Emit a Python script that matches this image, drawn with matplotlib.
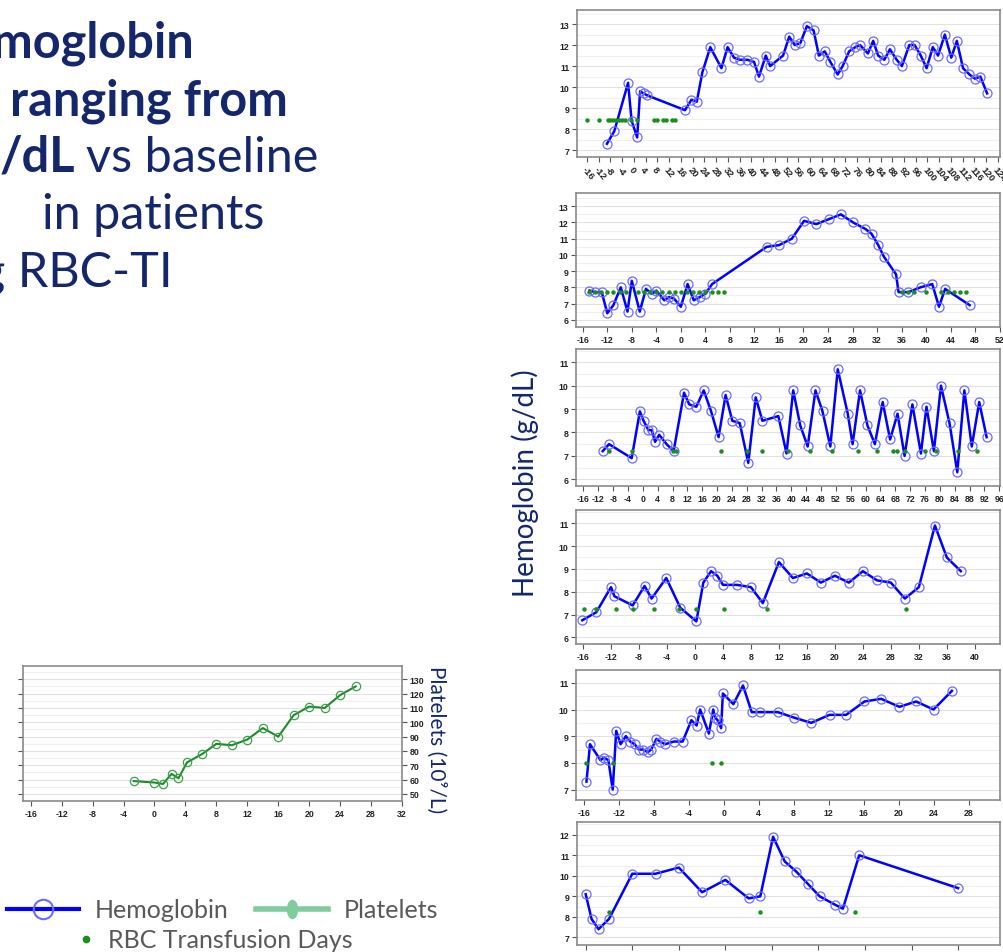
import matplotlib.pyplot as plt
from matplotlib.lines import Line2D
from matplotlib.markers import MarkerStyle
from matplotlib.transforms import Affine2D
from matplotlib.ticker import MultipleLocator

# hemoglobin (g/dL) by study day, one patient per panel, top to bottom
pt1_day = [-9.2, -6.7, -2.0, -0.8, 1.1, 2.1, 3.3, 4.6, 17.4, 19.6, 21.4, 23.3, 26.0, 29.8, 31.9,
           34.1, 36.0, 38.6, 40.9, 42.6, 44.9, 46.4, 50.8, 52.9, 54.8, 56.7, 58.9, 61.2, 63.0,
           65.0, 66.9, 69.4, 71.1, 73.3, 75.4, 77.0, 79.7, 81.5, 83.2, 85.3, 87.2, 89.5, 91.3,
           93.8, 95.6, 97.7, 99.7, 101.8, 103.6, 105.9, 108.1, 110.0, 112.1, 114.3, 116.2,
           118.0, 120.3]
pt1_hb = [7.3, 7.9, 10.2, 8.4, 7.6, 9.8, 9.7, 9.6, 8.9, 9.4, 9.3, 10.7, 11.9, 10.9, 11.9,
          11.4, 11.3, 11.3, 11.2, 10.5, 11.5, 11.0, 11.5, 12.4, 12.0, 12.1, 12.9, 12.7, 11.5,
          11.7, 11.2, 10.6, 11.0, 11.7, 11.9, 12.0, 11.6, 12.2, 11.5, 11.3, 11.8, 11.3, 11.0,
          12.0, 12.0, 11.5, 10.9, 11.9, 11.5, 12.5, 11.4, 12.2, 10.9, 10.6, 10.4, 10.5, 9.7]
pt1_rbc = [-16, -12, -9, -8, -7, -6, -5, -4, -3, -1, 1, 7, 8, 10, 11, 13, 14]

pt2_day = [-14.9, -14.0, -12.9, -12.0, -11.0, -9.8, -8.7, -8.0, -6.7, -5.7, -4.7, -4.0, -2.7,
           -1.9, -1.1, 0.0, 1.1, 2.1, 3.1, 4.0, 5.1, 14.0, 16.0, 18.1, 20.1, 22.1, 24.1, 26.1,
           28.1, 30.1, 31.1, 32.2, 33.1, 35.1, 35.5, 37.1, 39.1, 41.0, 42.1, 43.1, 47.1]
pt2_hb = [7.8, 7.7, 7.7, 6.4, 6.9, 8.0, 6.5, 8.4, 6.5, 7.9, 7.6, 7.8, 7.2, 7.4, 7.3, 6.8, 8.2,
          7.2, 7.4, 7.6, 8.2, 10.5, 10.6, 11.0, 12.1, 11.9, 12.2, 12.5, 12.0, 11.6, 11.3, 10.6,
          9.9, 8.8, 7.7, 7.7, 8.0, 8.2, 6.8, 7.9, 6.9]
pt2_rbc = [-15, -14, -13, -12, -11, -10, -9, -7, -6, -5, -4, -3, -2, -1, 0, 1, 2, 3, 4, 5, 6, 7,
           36, 37, 38, 40, 42.5, 43.5, 44.5, 45.5, 46.5]

pt3_day = [-10.8, -9.1, -3.0, -0.8, 0.2, 1.5, 2.4, 3.3, 4.4, 6.4, 8.3, 11.1, 12.5, 14.4, 16.4,
           18.4, 20.4, 22.3, 24.1, 26.1, 28.4, 30.4, 32.2, 36.5, 38.7, 40.5, 42.4, 44.4, 46.5,
           48.4, 50.5, 52.5, 55.2, 56.5, 58.5, 60.5, 62.5, 64.6, 66.6, 68.6, 70.5, 72.6, 74.9,
           76.4, 78.4, 80.3, 82.6, 84.7, 86.6, 88.6, 90.6, 92.6]
pt3_hb = [7.2, 7.5, 6.9, 8.9, 8.5, 8.1, 8.1, 7.6, 7.9, 7.5, 7.2, 9.7, 9.2, 9.1, 9.8, 8.9, 7.8,
          9.6, 8.5, 8.4, 6.7, 9.5, 8.5, 8.7, 7.1, 9.8, 8.3, 7.4, 9.8, 8.9, 7.4, 10.7, 8.8, 7.5,
          9.8, 8.3, 7.5, 9.3, 7.7, 8.8, 7.0, 9.2, 7.1, 9.1, 7.2, 10.0, 8.4, 6.3, 9.8, 7.4, 9.3,
          7.8]
pt3_rbc = [-9, -3, 8, 9, 21, 28, 32, 39, 45, 51, 58, 63, 67.5, 68.5, 70.5, 76, 79, 85, 90]

pt4_day = [-16.1, -14.1, -12.0, -11.5, -8.9, -7.2, -6.2, -4.1, -2.1, 0.2, 1.2, 2.3, 3.2, 4.0,
           6.0, 8.0, 9.7, 12.0, 14.0, 16.0, 18.0, 20.0, 22.0, 24.0, 26.0, 28.0, 30.0, 32.0, 34.3,
           36.0, 38.0]
pt4_hb = [6.75, 7.1, 8.2, 7.8, 7.4, 8.25, 7.7, 8.6, 7.3, 6.7, 8.4, 8.9, 8.7, 8.3, 8.3, 8.2, 7.5,
          9.3, 8.6, 8.8, 8.4, 8.7, 8.4, 8.9, 8.5, 8.4, 7.7, 8.2, 10.9, 9.5, 8.9]
pt4_rbc = [-15.9, -14.2, -11.3, -8.9, -5.8, -2.3, 0.1, 4.1, 10.3, 30.1]

pt5_day = [-15.7, -15.3, -14.1, -13.7, -13.2, -12.7, -12.3, -11.8, -11.2, -10.7, -10.2, -9.7,
           -9.2, -8.7, -8.3, -7.7, -7.3, -6.7, -5.7, -4.7, -3.7, -3.1, -2.7, -1.7, -1.2, -1.0,
           -0.7, -0.3, -0.1, 1.1, 2.2, 3.2, 4.2, 6.2, 8.0, 10.0, 12.1, 14.0, 16.1, 18.0, 20.1,
           22.0, 24.0, 26.1]
pt5_hb = [7.3, 8.7, 8.1, 8.2, 8.1, 7.0, 9.2, 8.7, 9.0, 8.8, 8.7, 8.5, 8.5, 8.4, 8.5, 8.9, 8.8,
          8.7, 8.8, 8.8, 9.6, 9.4, 10.0, 9.1, 10.0, 9.7, 9.6, 9.3, 10.6, 10.2, 10.9, 9.9, 9.9,
          9.9, 9.7, 9.5, 9.8, 9.8, 10.3, 10.4, 10.1, 10.3, 10.0, 10.7]
pt5_rbc = [-15.7, -12.7, -1.3, -0.3]

pt6_day = [-16.0, -15.5, -14.9, -14.0, -12.0, -10.0, -8.0, -6.0, -4.0, -2.0, -1.0, 0.1, 1.1, 2.1,
           3.1, 4.1, 5.4, 6.1, 7.5, 16.0]
pt6_hb = [9.1, 7.9, 7.4, 7.9, 10.1, 10.1, 10.4, 9.2, 9.8, 8.9, 9.0, 11.9, 10.7, 10.2, 9.6, 9.0,
          8.6, 8.4, 11.0, 9.4]
pt6_rbc = [-14.0, -1.0, 7.1]

# platelets (10^9/L) for the patient in the lower-left panel
plt_day = [-2.7, 0.0, 1.1, 2.2, 3.1, 4.2, 6.2, 8.0, 10.0, 12.0, 14.0, 16.0, 18.0, 20.0, 22.0,
           24.0, 26.0]
plt_val = [59, 58, 57, 64, 61, 72, 78, 85, 84, 88, 96, 90, 105, 111, 110, 119, 125]

W, H = 1004, 953
NAVY = '#15276c'
HB_BLUE = '#0000ff'
RBC_GREEN = '#1a8f1a'

plt.rcParams['font.family'] = ['Liberation Sans', 'DejaVu Sans']
plt.rcParams['font.weight'] = 'bold'
plt.rcParams['axes.unicode_minus'] = False

fig = plt.figure(figsize=(W / 100, H / 100), dpi=100)


def axes_px(left, top, right, bottom):
    return fig.add_axes([left / W, 1 - bottom / H, (right - left) / W, (bottom - top) / H])


def style(ax, xlim, ylim, xstep, ystep):
    ax.set_xlim(*xlim)
    ax.set_ylim(*ylim)
    ax.xaxis.set_major_locator(MultipleLocator(xstep))
    ax.yaxis.set_major_locator(MultipleLocator(ystep))
    ax.yaxis.set_minor_locator(MultipleLocator(ystep / 2))
    ax.grid(axis='y', which='major', color='#e2e2e2', lw=0.8)
    ax.grid(axis='y', which='minor', color='#f0f0f0', lw=0.8)
    ax.set_axisbelow(True)
    for s in ax.spines.values():
        s.set_color('#8a8a8a')
        s.set_linewidth(1.2)
    ax.tick_params(which='major', direction='out', length=3.5, width=0.8, color='#555555',
                   labelsize=6.3, labelcolor='#222222', pad=2)
    ax.tick_params(which='minor', length=0)


def hb_panel(ax, day, hb, rbc, rbc_level):
    ax.plot(day, hb, color=HB_BLUE, lw=1.8, marker='o', ms=6.5, mfc='none',
            mec='#6b6bff', mew=0.9, zorder=3)
    ax.plot(rbc, [rbc_level] * len(rbc), ls='none', marker='o', ms=2.2,
            color=RBC_GREEN, zorder=4)


# six hemoglobin panels on the right
ax1 = axes_px(577, 11, 1000, 158)
style(ax1, (-19.4, 124.7), (6.67, 13.67), 4, 1)
hb_panel(ax1, pt1_day, pt1_hb, pt1_rbc, 8.45)
plt.setp(ax1.get_xticklabels(), rotation=-50, ha='left', rotation_mode='anchor', fontsize=6.8)

ax2 = axes_px(576, 194, 1000, 328)
style(ax2, (-17.1, 52.05), (5.55, 13.82), 4, 1)
hb_panel(ax2, pt2_day, pt2_hb, pt2_rbc, 7.7)

ax3 = axes_px(576, 350, 1000, 487)
style(ax3, (-18.0, 96.2), (5.71, 11.57), 4, 1)
hb_panel(ax3, pt3_day, pt3_hb, pt3_rbc, 7.2)

ax4 = axes_px(576, 511, 1000, 645)
style(ax4, (-17.0, 43.6), (5.71, 11.58), 4, 1)
hb_panel(ax4, pt4_day, pt4_hb, pt4_rbc, 7.23)

ax5 = axes_px(576, 671, 1000, 801)
style(ax5, (-16.9, 31.6), (6.61, 11.48), 4, 1)
hb_panel(ax5, pt5_day, pt5_hb, pt5_rbc, 8.0)

ax6 = axes_px(577, 823, 1000, 946)
style(ax6, (-16.75, 19.6), (6.63, 12.62), 4, 1)
hb_panel(ax6, pt6_day, pt6_hb, pt6_rbc, 8.22)

# platelet panel, values on the right-hand axis
axp = axes_px(23, 667, 402, 802)
style(axp, (-17.0, 32.0), (45.1, 139.3), 4, 10)
axp.tick_params(axis='y', left=True, right=True, labelleft=False, labelright=True)
axp.plot(plt_day, plt_val, color='#1f8a2a', lw=1.5, marker='o', ms=6, mfc='none',
         mec='#3da04a', mew=0.9, zorder=3)

# axis titles
title_font = ['Lato', 'DejaVu Sans']
fig.text(525 / W, 1 - 483 / H, 'Hemoglobin (g/dL)', rotation=90, ha='center', va='center',
         fontsize=20, color=NAVY, family=title_font, weight='normal')
fig.text(436 / W, 1 - 740 / H, 'Platelets (10⁹/L)', rotation=-90, ha='center', va='center',
         fontsize=15, color=NAVY, family=title_font, weight='normal')

# headline text block, upper left
def head(x, y, s, bold):
    fig.text(x / W, 1 - y / H, s, ha='left', va='baseline', fontsize=35, color=NAVY,
             family=title_font, weight='bold' if bold else 'normal')


head(-8, 58, 'moglobin', True)
head(10, 115, 'ranging from', True)
head(0, 172, '/dL', True)
head(86, 172, 'vs baseline', False)
head(42, 229, 'in patients', False)
head(-20, 287, 'g RBC-TI', False)

# legend
hb_handle = Line2D([], [], color=HB_BLUE, lw=3, marker='o', ms=14, mfc='none',
                   mec='#6b6bff', mew=1.5)
plt_handle = Line2D([], [], color='#80cc9c', lw=4,
                    marker=MarkerStyle('o', transform=Affine2D().scale(0.55, 1.0)),
                    ms=13, mfc='#80cc9c', mec='#80cc9c')
rbc_handle = Line2D([], [], ls='none', marker='o', ms=4.5, color=RBC_GREEN)

leg_font = {'family': title_font, 'size': 18, 'weight': 'normal'}
fig.legend([hb_handle, plt_handle], ['Hemoglobin', 'Platelets'], loc='center left',
           bbox_to_anchor=(7 / W, 1 - 911 / H), ncol=2, frameon=False, prop=leg_font,
           labelcolor='#595959', handlelength=2.9, handletextpad=0.6, columnspacing=1.1,
           borderpad=0, borderaxespad=0)
fig.legend([rbc_handle], ['RBC Transfusion Days'], loc='center left',
           bbox_to_anchor=(76 / W, 1 - 941 / H), frameon=False, prop=leg_font,
           labelcolor='#595959', handlelength=0.8, handletextpad=0.5,
           borderpad=0, borderaxespad=0)

fig.savefig('out.png', dpi=100)
